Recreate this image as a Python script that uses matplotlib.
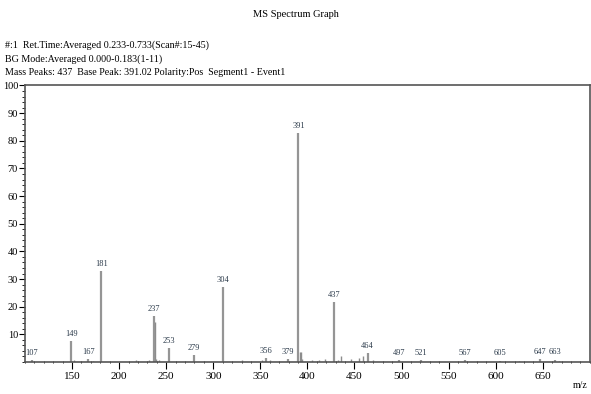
import matplotlib.pyplot as plt
from matplotlib.ticker import MultipleLocator

# ===== Dữ liệu =====
# main labelled peaks (position on axis, label text, intensity %)
peak_mz = [107, 149, 167, 181, 237, 253, 279, 310.5, 356, 379, 390.5, 428, 464, 497, 521, 567, 605, 647, 663]
peak_lbl = ["107", "149", "167", "181", "237", "253", "279", "304", "356", "379", "391", "437", "464", "497", "521", "567", "605", "647", "663"]
peak_int = [0.6, 7.6, 1.0, 32.9, 16.6, 5.0, 2.5, 27.0, 1.5, 1.0, 82.8, 21.7, 3.2, 0.7, 0.6, 0.7, 0.5, 1.0, 0.9]

# small unlabelled peaks
small_mz = [238, 239, 392, 393, 394, 152, 160, 172, 218, 232, 242, 290, 330, 352, 360, 405, 412, 419, 432, 436, 446, 455, 459, 470, 480, 540, 580, 625, 667]
small_int = [14.5, 1.2, 3.6, 3.6, 1.0, 0.6, 0.5, 0.5, 0.8, 0.6, 0.7, 0.5, 0.6, 0.7, 0.8, 0.6, 0.9, 1.0, 0.8, 2.0, 1.2, 1.6, 2.2, 0.7, 0.5, 0.4, 0.4, 0.4, 0.5]

plt.rcParams['font.family'] = ['Liberation Serif', 'DejaVu Serif']

fig = plt.figure(figsize=(5.91, 3.94), dpi=100)
ax = fig.add_axes([0.0423, 0.0812, 0.9557, 0.7018])

ax.vlines(small_mz, 0, small_int, color="#8c8c8c", lw=1.0)
ax.vlines(peak_mz, 0, peak_int, color="#959595", lw=1.6)
for x, t, y in zip(peak_mz, peak_lbl, peak_int):
    ax.text(x, y + 1.2, t, ha="center", va="bottom", fontsize=6, color="#2b3a4a")

ax.set_xlim(100, 700)
ax.set_ylim(0, 100)
ax.xaxis.set_minor_locator(MultipleLocator(10))
ax.yaxis.set_minor_locator(MultipleLocator(2))
ax.set_xticks(range(150, 700, 50))
ax.set_yticks(range(10, 101, 10))
ax.tick_params(axis="x", which="major", length=5, labelsize=8, pad=2, direction="out")
ax.tick_params(axis="x", which="minor", length=2, direction="inout")
ax.tick_params(axis="y", which="major", length=4, labelsize=7.5, pad=1)
ax.tick_params(axis="y", which="minor", length=2)
for s in ax.spines.values():
    s.set_color("#555555")
    s.set_linewidth(1.2)

fig.text(0.5, 0.962, "MS Spectrum Graph", ha="center", va="center", fontsize=7.5)
fig.text(0.008, 0.885, "#:1  Ret.Time:Averaged 0.233-0.733(Scan#:15-45)", va="center", fontsize=7.2)
fig.text(0.008, 0.851, "BG Mode:Averaged 0.000-0.183(1-11)", va="center", fontsize=7.2)
fig.text(0.008, 0.817, "Mass Peaks: 437  Base Peak: 391.02 Polarity:Pos  Segment1 - Event1", va="center", fontsize=7.2)
fig.text(0.995, 0.022, "m/z", ha="right", va="center", fontsize=7)

fig.savefig("out.png", dpi=100)
